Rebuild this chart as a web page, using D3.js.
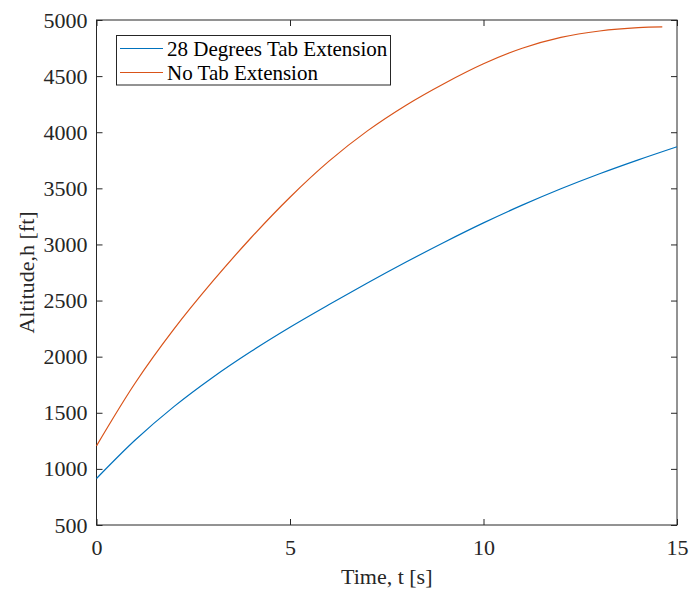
<!DOCTYPE html>
<html><head><meta charset="utf-8">
<script src="https://cdn.jsdelivr.net/npm/d3@7"></script>
<style>
html,body{margin:0;padding:0;background:#fff;}
svg{display:block;font-family:"Liberation Serif","Times New Roman",serif;}
</style></head>
<body><svg id="c" width="689" height="590"></svg>
<script>
// Data
const seriesNames = ["28 Degrees Tab Extension", "No Tab Extension"];
const tabTime = [0, 1, 2, 3, 4, 5, 6, 7, 8, 9, 10, 11, 12, 13, 14, 15];
const tabAlt  = [914, 1257, 1555, 1815, 2048, 2262, 2462, 2656, 2843, 3022, 3192, 3350, 3496, 3630, 3754, 3871];
const noTabTime = [0, 1, 2, 3, 4, 5, 6, 7, 8, 9, 10, 11, 12, 13, 14, 14.62];
const noTabAlt  = [1205, 1765, 2245, 2670, 3062, 3421, 3740, 4012, 4241, 4437, 4610, 4748, 4845, 4902, 4932, 4938];
const xTicks = [0, 5, 10, 15];
const yTicks = [500, 1000, 1500, 2000, 2500, 3000, 3500, 4000, 4500, 5000];
const colors = ["#0072BD", "#D95319"];

const FONT = '"Liberation Serif","Times New Roman",serif';
const svg = d3.select("#c");
const L = 96.5, R = 677, T = 20, B = 525;
const x = d3.scaleLinear().domain([0, 15]).range([L, R]);
const y = d3.scaleLinear().domain([500, 5000]).range([B, T]);
const axisColor = "#262626";
const fs = 22;

// frame
svg.append("rect").attr("x", L).attr("y", T).attr("width", R - L).attr("height", B - T)
  .attr("fill", "none").attr("stroke", axisColor).attr("stroke-width", 1);

// axes with inward ticks
const tl = 6;
const fmt = d3.format("d");
const gx = svg.append("g").attr("transform", `translate(0,${B})`)
  .call(d3.axisBottom(x).tickValues(xTicks).tickSizeInner(-tl).tickSizeOuter(0).tickPadding(14).tickFormat(fmt));
const gy = svg.append("g").attr("transform", `translate(${L},0)`)
  .call(d3.axisLeft(y).tickValues(yTicks).tickSizeInner(-tl).tickSizeOuter(0).tickPadding(9).tickFormat(fmt));
const gxt = svg.append("g").attr("transform", `translate(0,${T})`)
  .call(d3.axisTop(x).tickValues(xTicks).tickSizeInner(-tl).tickSizeOuter(0).tickFormat(""));
const gyr = svg.append("g").attr("transform", `translate(${R},0)`)
  .call(d3.axisRight(y).tickValues(yTicks).tickSizeInner(-tl).tickSizeOuter(0).tickFormat(""));
[gx, gy, gxt, gyr].forEach(g => {
  g.attr("font-family", FONT).attr("font-size", fs);
  g.select(".domain").remove();
  g.selectAll("line").attr("stroke", axisColor);
  g.selectAll("text").attr("fill", axisColor).attr("font-family", FONT).attr("font-size", fs);
});

// lines
const line = d3.line().x(d => x(d[0])).y(d => y(d[1])).curve(d3.curveCatmullRom.alpha(0.5));
const tabData = tabTime.map((t, i) => [t, tabAlt[i]]);
const noTabData = noTabTime.map((t, i) => [t, noTabAlt[i]]);
svg.append("path").datum(tabData).attr("d", line).attr("fill", "none")
  .attr("stroke", colors[0]).attr("stroke-width", 1.2);
svg.append("path").datum(noTabData).attr("d", line).attr("fill", "none")
  .attr("stroke", colors[1]).attr("stroke-width", 1.2);

// axis labels
svg.append("text").attr("x", (L + R) / 2).attr("y", 584).attr("text-anchor", "middle")
  .attr("fill", axisColor).attr("font-family", FONT).attr("font-size", fs).text("Time, t [s]");
svg.append("text").attr("transform", `translate(34,${(T + B) / 2}) rotate(-90)`)
  .attr("text-anchor", "middle").attr("fill", axisColor).attr("font-family", FONT).attr("font-size", fs)
  .text("Altitude,h [ft]");

// legend
const lg = svg.append("g");
lg.append("rect").attr("x", 116.5).attr("y", 35.5).attr("width", 274).attr("height", 49.5)
  .attr("fill", "#fff").attr("stroke", axisColor).attr("stroke-width", 1);
seriesNames.forEach((n, i) => {
  const yy = 48.5 + i * 24;
  lg.append("line").attr("x1", 120).attr("x2", 163).attr("y1", yy).attr("y2", yy)
    .attr("stroke", colors[i]).attr("stroke-width", 1.2);
  lg.append("text").attr("x", 167).attr("y", yy).attr("dy", "0.35em")
    .attr("fill", "#000").attr("font-family", FONT).attr("font-size", 21).text(n);
});
</script></body></html>
